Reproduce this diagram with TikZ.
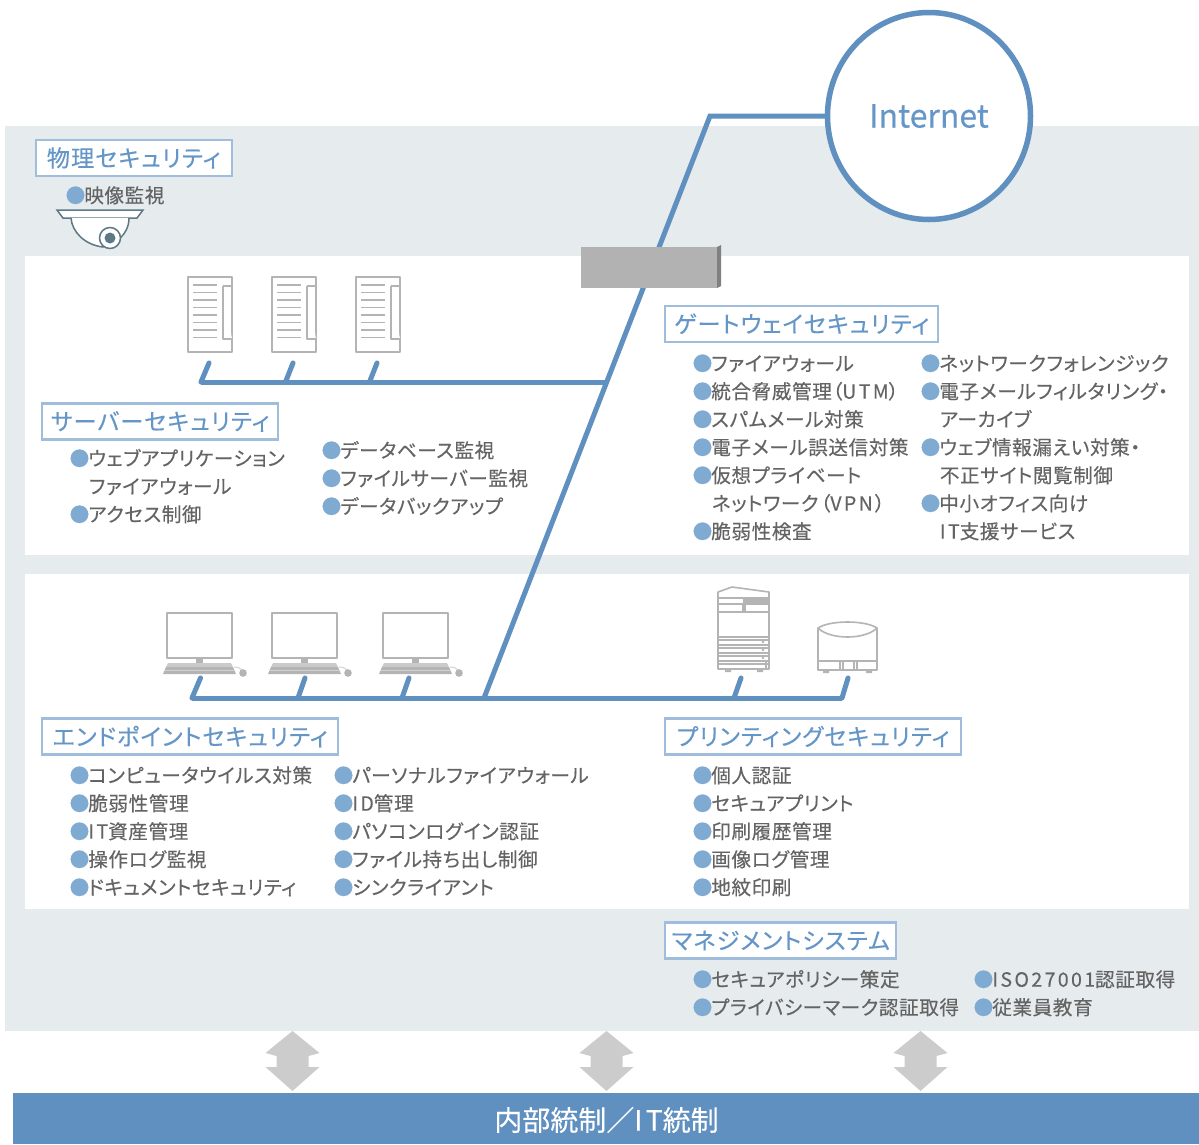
\documentclass[tikz,border=0pt]{standalone}
\usepackage{fontspec}
\usetikzlibrary{shapes.geometric}
\setmainfont{Noto Sans CJK JP}[RawFeature=+palt,FakeBold=0.25]
\newfontfamily\plainlatin{Noto Sans CJK JP}[FakeBold=0.25]
\definecolor{panelbg}{HTML}{E6EBEE}
\definecolor{netblue}{HTML}{6090C0}
\definecolor{headblue}{HTML}{6496C8}
\definecolor{headline}{HTML}{A0BEDC}
\definecolor{bodytext}{HTML}{646464}
\definecolor{iconline}{HTML}{B4B4B4}
\definecolor{camline}{HTML}{5F7885}
\definecolor{bulletblue}{HTML}{7FAAD2}
\definecolor{arrowgray}{HTML}{CCCCCC}
\newcommand{\bl}{\textcolor{bulletblue}{\kern-0.5pt●\kern-1pt}}
\newcommand{\lat}[1]{{\addfontfeature{LetterSpace=12}#1}}
\tikzset{
  x=1pt,y=-1pt,
  net/.style={draw=netblue,line width=5pt,line join=miter},
  stub/.style={draw=netblue,line width=5pt,line cap=round},
  heading/.style={draw=headline,line width=2.4pt,fill=white,text=headblue,inner sep=0pt,
     font=\fontsize{23.2}{26}\selectfont\addfontfeature{LetterSpace=4.5},minimum height=36pt,anchor=west},
  item/.style={anchor=base west,inner sep=0pt,text=bodytext,yshift=-0.7pt,
     font=\fontsize{19.6}{22}\selectfont\addfontfeature{LetterSpace=3}},
  iconl/.style={draw=iconline,line width=1.6pt,fill=white,line join=round},
  thin icon/.style={draw=iconline,line width=1.2pt},
  serverpic/.pic={
    \draw[iconl,line width=2pt] (0,0) rectangle (44,75);
    \foreach \k in {0,...,7} \draw[thin icon,line width=1.4pt] (5,8+7.5*\k) -- (29,8+7.5*\k);
    \draw[iconl] (35,9) -- (44,9) (44,62) -- (35,62) -- (35,9);
  },
  pcpic/.pic={
    \draw[iconl,line width=2pt] (0,0) rectangle (65,45);
    \fill[iconline] (29,46) rectangle (36,50);
    \fill[iconline!70] (1,50) -- (64,50) -- (66,54) -- (-1,54) -- cycle;
    \fill[iconline] (-1,54) -- (66,54) -- (69,61) -- (-4,61) -- cycle;
    \draw[iconline!60,line width=0.8pt] (-2,57.5) -- (67,57.5);
    \draw[iconline!60,line width=1pt] (67,54) .. controls (71,54) and (73,55) .. (76,58);
    \fill[iconline] (76,60) circle (3.8);
  },
  dblarrow/.pic={
    \fill[arrowgray] (0,0) -- (27,22) -- (16,25) -- (16,36) -- (27,36) -- (0,60) -- (-27,36) -- (-16,36) -- (-16,25) -- (-27,22) -- cycle;
  }
}
\begin{document}
\begin{tikzpicture}
\useasboundingbox (0,0) rectangle (1199,1144);
\fill[white] (0,0) rectangle (1199,1144);
% panels
\fill[panelbg] (5,126) rectangle (1199,1031);
\fill[white] (25,256) rectangle (1189,555);
\fill[white] (25,574) rectangle (1189,909);
\fill[netblue] (13,1093) rectangle (1199,1144);
% named points of the network
\coordinate (bend) at (710,116);
\coordinate (srvj) at (607,382);
\coordinate (lanj) at (484,698);
\coordinate (srvl) at (201,382);
\coordinate (s1) at (209,363);
\coordinate (s1b) at (201,382);
\coordinate (s2) at (293,363);
\coordinate (s2b) at (285.5,382);
\coordinate (s3) at (377,363);
\coordinate (s3b) at (369.5,382);
\coordinate (lanl) at (192,698);
\coordinate (p1) at (200.500,678);
\coordinate (p2) at (305,678);
\coordinate (p2b) at (298,698);
\coordinate (p3) at (409,678);
\coordinate (p3b) at (402,698);
\coordinate (q1) at (741,678);
\coordinate (q1b) at (734,698);
\coordinate (q2) at (848,678);
\coordinate (q2b) at (842,698);
% internet circle
\node[ellipse,draw=netblue,line width=5.5pt,fill=white,minimum width=203pt,minimum height=207pt,inner sep=0pt,text=headblue,
  font=\fontsize{32}{36}\selectfont] (inet) at (929,116) {Internet};
% connectors
\draw[net] (inet.west) -- (bend) -- (lanj);
\draw[net] (srvl) -- (srvj);
\draw[net] (lanl) -- (q2b);
\draw[net,line cap=round] (s1) -- (s1b);
\draw[stub] (s2) -- (s2b) (s3) -- (s3b);
\draw[net,line cap=round] (p1) -- (lanl);
\draw[stub] (p2) -- (p2b) (p3) -- (p3b) (q1) -- (q1b);
\draw[net,line cap=round] (q2) -- (q2b);
% gateway box
\fill[black!50] (717,247) -- (721,245) -- (721,286) -- (717,288) -- cycle;
\node[fill=black!30,inner sep=0pt,minimum width=136pt,minimum height=41pt,anchor=north west] (gw) at (581,247) {};
% servers
\pic at (188,277) {serverpic};
\pic at (272,277) {serverpic};
\pic at (356,277) {serverpic};
% PCs
\pic at (167,613) {pcpic};
\pic at (272,613) {pcpic};
\pic at (383,613) {pcpic};
% printer
\draw[iconl] (718,604) -- (718,592) -- (732,587) -- (769,592) -- (769,604) -- cycle;
\draw[thin icon] (718,598) -- (769,598);
\fill[iconline] (743,598) rectangle (768,604);
\draw[iconl] (718,612) rectangle (769,669);
\draw[thin icon] (743,604) -- (743,612) (745,604) -- (745,612) (718,604) -- (718,612) (769,604) -- (769,612);
\foreach \yy in {637,640,645,648,653,656,661,664} \draw[thin icon] (718,\yy) -- (769,\yy);
\foreach \yy in {642,650,658} \fill[iconline] (763,\yy) circle (1.3);
\draw[thin icon] (766,662) -- (766,669);
\fill[iconline] (725,669) rectangle (731,672) (757,669) rectangle (763,672);
% scanner
\draw[iconl] (818,628) .. controls (830,620) and (865,620) .. (877,628) -- (877,670) -- (818,670) -- cycle;
\draw[iconl,fill=none] (818,628) .. controls (830,640) and (865,640) .. (877,628);
\draw[thin icon] (818,661) -- (877,661) (840,661) -- (840,670) (843,661) -- (843,670) (854,661) -- (854,670) (857,661) -- (857,670);
\fill[iconline] (823,670) rectangle (829,673) (866,670) rectangle (872,673);
% camera
\draw[camline,line width=1.5pt,fill=white] (57,210) -- (143,210) -- (137,218) -- (63,218) -- cycle;
\draw[camline,line width=1.5pt,fill=white] (71,218) .. controls (72,232) and (85,245) .. (103,247) -- (118,240) .. controls (124,235) and (129,228) .. (129,218);
\fill[camline] (57,209.500) rectangle (143,211);
\draw[camline,line width=1.5pt,fill=white] (110,238) circle (10.5);
\fill[camline] (110,238) circle (5.5);
% double arrows
\pic at (292.5,1031) {dblarrow};
\pic at (606.5,1031) {dblarrow};
\pic at (920.5,1031) {dblarrow};
% headings
\node[heading,minimum width=196pt] (hphys) at (34.500,158) {\raisebox{2pt}{物理セキュリティ}};
\node[heading,minimum width=273pt] (hgate) at (664,324) {ゲートウェイセキュリティ};
\node[heading,minimum width=236pt] (hsrv) at (41,421.500) {サーバーセキュリティ};
\node[heading,minimum width=296pt] (hend) at (41,736.500) {エンドポイントセキュリティ};
\node[heading,minimum width=296pt] (hprt) at (664,736.500) {プリンティングセキュリティ};
\node[heading,minimum width=231pt] (hmgt) at (664,940.500) {マネジメントシステム};
% physical
\node[item] (a1) at (66,202) {\bl 映像監視};
% server
\node[item] (b1) at (70,465) {\bl ウェブアプリケーション};
\node[item] (b2) at (88.700,493) {ファイアウォール};
\node[item] (b3) at (70,521) {\bl アクセス制御};
\node[item] (b4) at (322,457) {\bl データベース監視};
\node[item] (b5) at (322,485) {\bl ファイルサーバー監視};
\node[item] (b6) at (322,513) {\bl データバックアップ};
% gateway
\node[item] (c1) at (693,370) {\bl ファイアウォール};
\node[item] (c2) at (693,398) {\bl 統合脅威管理（\lat{UTM}）};
\node[item] (c3) at (693,426) {\bl スパムメール対策};
\node[item] (c4) at (693,454) {\bl 電子メール誤送信対策};
\node[item] (c5) at (693,482) {\bl 仮想プライベート};
\node[item] (c6) at (711.700,510) {ネットワーク\kern2pt（\lat{VPN}\kern2pt）};
\node[item] (c7) at (693,538) {\bl 脆弱性検査};
\node[item] (d1) at (921,370) {\bl ネットワークフォレンジック};
\node[item] (d2) at (921,398) {\bl 電子メールフィルタリング・};
\node[item] (d3) at (939.700,426) {アーカイブ};
\node[item] (d4) at (921,454) {\bl ウェブ情報漏えい対策・};
\node[item] (d5) at (939.700,482) {不正サイト閲覧制御};
\node[item] (d6) at (921,510) {\bl 中小オフィス向け};
\node[item] (d7) at (939.700,538) {\lat{IT}支援サービス};
% endpoint
\node[item] (e1) at (70,782) {\bl コンピュータウイルス対策};
\node[item] (e2) at (70,810) {\bl 脆弱性管理};
\node[item] (e3) at (70,838) {\bl \lat{IT}資産管理};
\node[item] (e4) at (70,866) {\bl 操作ログ監視};
\node[item] (e5) at (70,894) {\bl ドキュメントセキュリティ};
\node[item] (f1) at (334,782) {\bl パーソナルファイアウォール};
\node[item] (f2) at (334,810) {\bl \lat{ID}管理};
\node[item] (f3) at (334,838) {\bl パソコンログイン認証};
\node[item] (f4) at (334,866) {\bl ファイル持ち出し制御};
\node[item] (f5) at (334,894) {\bl シンクライアント};
% printing
\node[item] (g1) at (693,782) {\bl 個人認証};
\node[item] (g2) at (693,810) {\bl セキュアプリント};
\node[item] (g3) at (693,838) {\bl 印刷履歴管理};
\node[item] (g4) at (693,866) {\bl 画像ログ管理};
\node[item] (g5) at (693,894) {\bl 地紋印刷};
% management
\node[item] (h1) at (693,986) {\bl セキュアポリシー策定};
\node[item] (h2) at (693,1014) {\bl プライバシーマーク認証取得};
\node[item] (h3) at (974,986) {\bl \lat{ISO27001}認証取得};
\node[item] (h4) at (974,1014) {\bl 従業員教育};
% bar label
\node[text=white,inner sep=0pt,font=\fontsize{28}{30}\selectfont] (bar) at (606.5,1120) {内部統制／\lat{IT}統制};
\end{tikzpicture}
\end{document}
